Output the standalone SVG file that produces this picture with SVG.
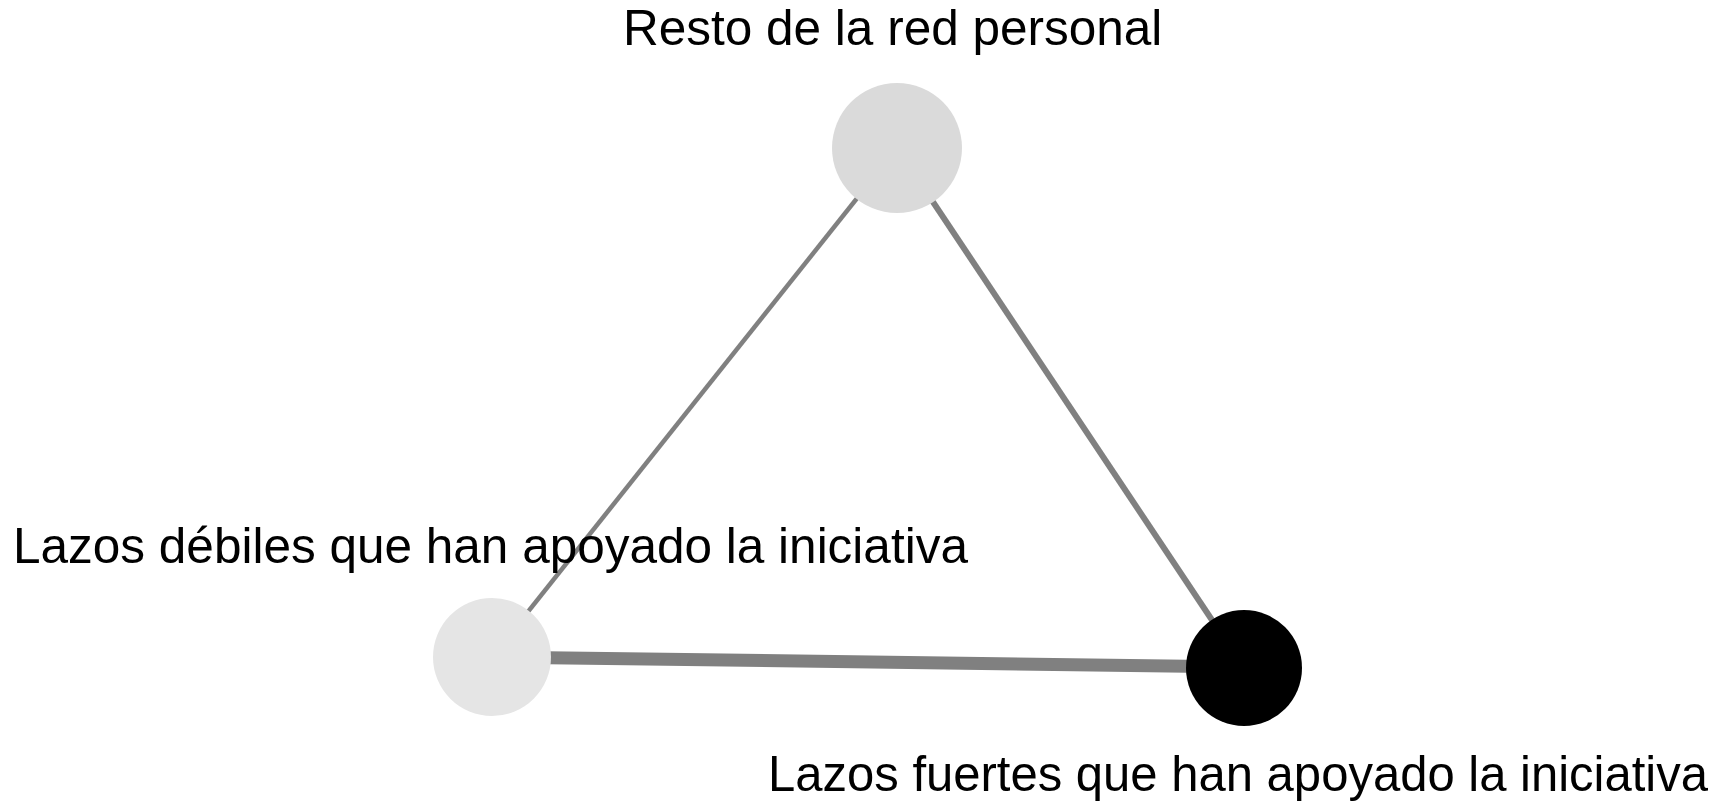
<svg xmlns="http://www.w3.org/2000/svg" width="1733" height="802" viewBox="0 0 1733 802">
<style>
.edge{stroke:#808080;fill:none;stroke-linecap:butt}
.lbl{font-family:"Liberation Sans",Arial,sans-serif;font-size:49.5px;fill:#000}
</style>
<rect x="0" y="0" width="1733" height="802" fill="#ffffff"/>
<g id="connectors">
<line class="edge" x1="897" y1="148" x2="492" y2="657" stroke-width="4.5"/>
<line class="edge" x1="897" y1="148" x2="1244" y2="668" stroke-width="6"/>
<line class="edge" x1="492" y1="657" x2="1244" y2="667" stroke-width="13"/>
</g>
<g id="node-resto">
<circle cx="897" cy="148" r="65" fill="#dadada"/>
<text class="lbl" x="623" y="45">Resto de la red personal</text>
</g>
<g id="node-debiles">
<circle cx="492" cy="657" r="59" fill="#e5e5e5"/>
<text class="lbl" x="13" y="563">Lazos débiles que han apoyado la iniciativa</text>
</g>
<g id="node-fuertes">
<circle cx="1244" cy="668" r="58" fill="#000000"/>
<text class="lbl" x="768" y="791" textLength="940" lengthAdjust="spacingAndGlyphs">Lazos fuertes que han apoyado la iniciativa</text>
</g>
</svg>
